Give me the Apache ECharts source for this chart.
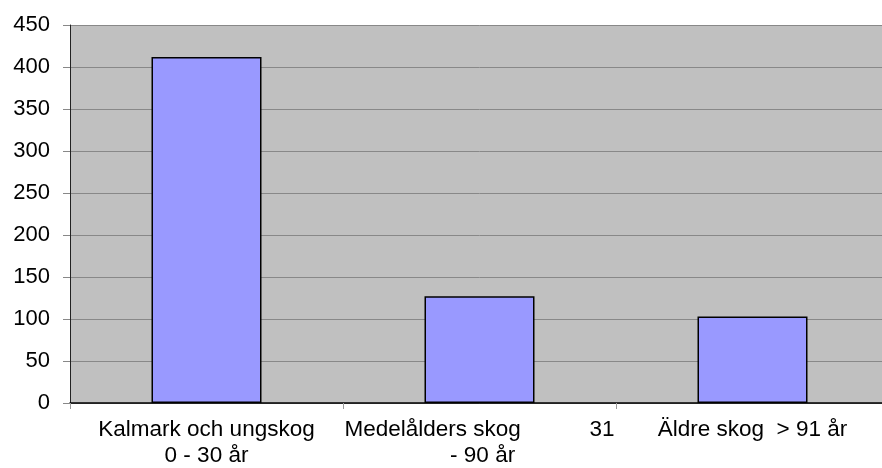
<!DOCTYPE html>
<html>
<head>
<meta charset="utf-8">
<script src="https://cdn.jsdelivr.net/npm/echarts@6/dist/echarts.min.js"></script>
<style>
html,body{margin:0;padding:0;overflow:hidden;background:#fff;}
#c{width:889px;height:468px;}
</style>
</head>
<body>
<div id="c"></div>
<script>
var categories = [
  'Kalmark och ungskog\n0 - 30 år',
  'Medelålders skog           31\n - 90 år',
  'Äldre skog  > 91 år'
];
var values = [412, 127, 103];
var yTicks = { min: 0, max: 450, interval: 50 };

var chart = echarts.init(document.getElementById('c'), null, { renderer: 'canvas' });
chart.setOption({
  animation: false,
  grid: {
    left: 70, right: 0, top: 25, bottom: 65,
    outerBoundsMode: 'none', containLabel: false,
    show: true, backgroundColor: '#C0C0C0', borderWidth: 0
  },
  xAxis: {
    type: 'category',
    data: categories,
    boundaryGap: true,
    axisLine: { lineStyle: { color: '#000', width: 1.5 } },
    axisTick: { show: true, alignWithLabel: false, length: 6, lineStyle: { color: '#999' } },
    axisLabel: {
      interval: 0, margin: 14, color: '#000',
      fontFamily: 'Liberation Sans', fontSize: 22.5, lineHeight: 26
    },
    splitLine: { show: false }
  },
  yAxis: {
    type: 'value',
    min: yTicks.min, max: yTicks.max, interval: yTicks.interval,
    axisLine: { show: true, lineStyle: { color: '#222', width: 1 } },
    axisTick: { show: true, length: 7, lineStyle: { color: '#888' } },
    axisLabel: {
      margin: 20, color: '#000',
      fontFamily: 'Liberation Sans', fontSize: 22
    },
    splitLine: { show: true, lineStyle: { color: '#888', width: 1 } }
  },
  series: [{
    type: 'bar',
    data: values,
    barWidth: 110,
    itemStyle: { color: '#9999FF', borderColor: '#000', borderWidth: 1.5 }
  }]
});
</script>
</body>
</html>
